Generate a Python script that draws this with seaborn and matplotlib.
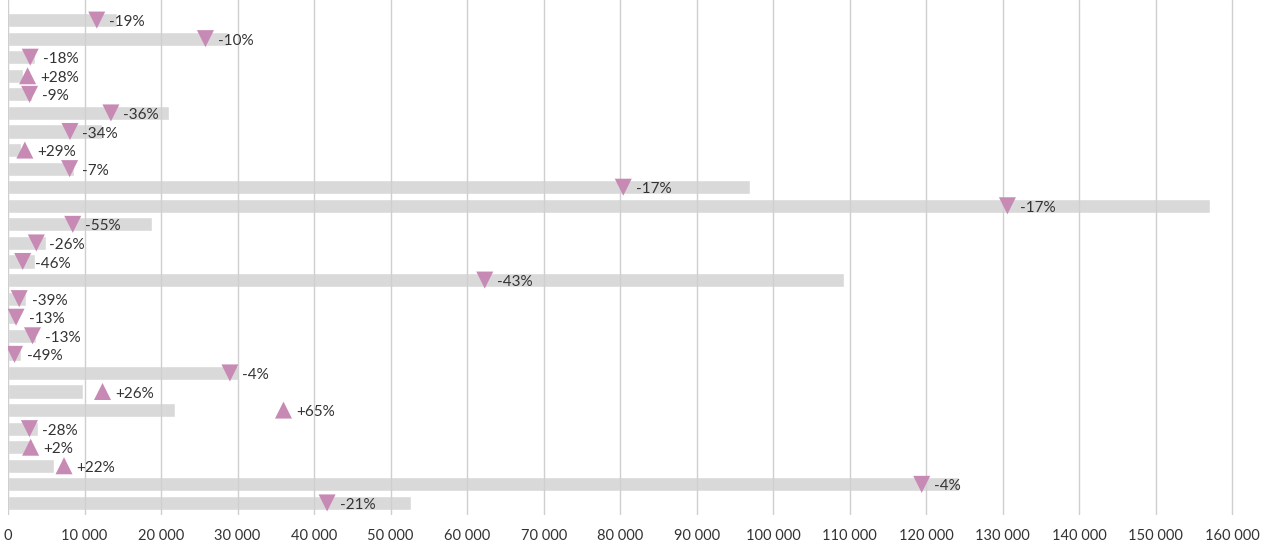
import numpy as np
import pandas as pd
import seaborn as sns
import matplotlib.pyplot as plt
from matplotlib.ticker import FuncFormatter

sns.set_theme(style="white")
plt.rcParams['font.family'] = ['Lato', 'DejaVu Sans']

# rows top to bottom (no labels shown in the chart)
rows = [f"r{i:02d}" for i in range(1, 28)]
previous = [14200, 28700, 3500, 2000, 3100, 21000, 12250, 1700, 8650,
            96900, 157100, 18800, 5000, 3550, 109200, 2400, 1200, 3700,
            1650, 30200, 9800, 21800, 3900, 2900, 6000, 124300, 52700]
current = [11600, 25800, 2900, 2560, 2820, 13450, 8100, 2200, 8050,
           80400, 130600, 8460, 3700, 1920, 62300, 1460, 1050, 3200,
           850, 29000, 12350, 36000, 2800, 2960, 7320, 119400, 41700]
pct = ["-19%", "-10%", "-18%", "+28%", "-9%", "-36%", "-34%", "+29%", "-7%",
       "-17%", "-17%", "-55%", "-26%", "-46%", "-43%", "-39%", "-13%", "-13%",
       "-49%", "-4%", "+26%", "+65%", "-28%", "+2%", "+22%", "-4%", "-21%"]

df = pd.DataFrame({"row": rows, "previous": previous, "current": current, "pct": pct})
df["up"] = df["current"] > df["previous"]

fig = plt.figure(figsize=(12.72, 5.44), dpi=100)
ax = fig.add_axes([8 / 1272, 1 - 515 / 544, 1255 / 1272, 515 / 544])

sns.barplot(data=df, y="row", x="previous", orient="h", color="#d9d9d9",
            width=0.76, saturation=1, ax=ax, zorder=1)

pink = "#c78ab5"
sns.scatterplot(data=df[~df["up"]], y="row", x="current", marker="v", s=150,
                color=pink, edgecolor="none", ax=ax, zorder=3)
sns.scatterplot(data=df[df["up"]], y="row", x="current", marker="^", s=150,
                color=pink, edgecolor="none", ax=ax, zorder=3)

for i, r in df.iterrows():
    ax.annotate(r["pct"], (r["current"], i), xytext=(9, -1.5), textcoords="offset points",
                va="center", ha="left", fontsize=11, color="#333333", zorder=4)

ax.set_xlim(0, 164000)
ax.set_ylim(26.65, -1.08)
ax.set_xticks(np.arange(0, 160001, 10000))
ax.xaxis.set_major_formatter(FuncFormatter(lambda v, p: f"{int(v):,}".replace(",", " ")))
ax.tick_params(axis="x", labelsize=10.5, labelcolor="#333333", length=0, pad=10)
ax.set_yticks([])
ax.set_xlabel("")
ax.set_ylabel("")
ax.set_axisbelow(False)
ax.grid(axis="x", color="#cfcfcf", linewidth=1)
ax.grid(axis="y", visible=False)
for s in ax.spines.values():
    s.set_visible(False)

fig.savefig("out.png", dpi=100)
